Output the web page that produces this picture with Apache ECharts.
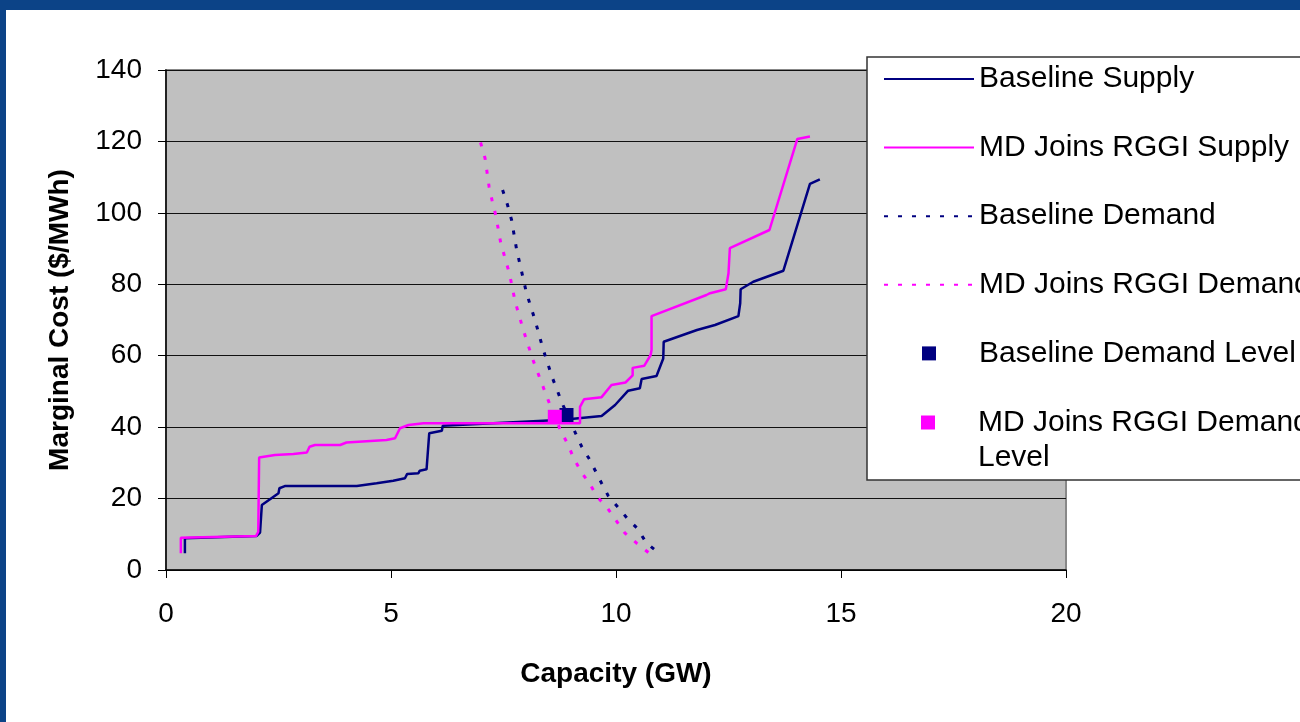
<!DOCTYPE html>
<html>
<head>
<meta charset="utf-8">
<script src="https://cdn.jsdelivr.net/npm/echarts@6/dist/echarts.min.js"></script>
<style>
  html, body { margin: 0; padding: 0; background: #fff; }
  #chart { width: 1300px; height: 722px; }
</style>
</head>
<body>
<div id="chart"></div>
<script>
// Supply curves: [capacity GW, marginal cost $/MWh]
const baselineSupply = [
  [0.42, 4.7], [0.42, 8.9], [2.01, 9.5], [2.09, 10.5], [2.13, 18.2], [2.5, 21.5],
  [2.52, 22.9], [2.64, 23.5], [4.24, 23.5], [4.68, 24.3], [5.05, 25.0], [5.31, 25.7],
  [5.36, 26.9], [5.61, 27.1], [5.64, 27.8], [5.79, 28.2], [5.85, 38.3], [6.13, 39.0],
  [6.15, 40.4], [8.83, 42.1], [9.68, 43.1], [9.98, 46.2], [10.27, 50.2], [10.53, 50.9],
  [10.57, 53.5], [10.9, 54.3], [11.05, 59.2], [11.06, 63.9], [11.8, 67.2], [12.2, 68.6],
  [12.72, 71.1], [12.76, 74.7], [12.77, 78.6], [13.05, 80.7], [13.72, 83.8],
  [14.31, 108.1], [14.53, 109.4]
];
const mdSupply = [
  [0.33, 4.7], [0.33, 9.0], [2.0, 9.5], [2.05, 10.7], [2.07, 31.5], [2.42, 32.2],
  [2.83, 32.5], [3.13, 32.9], [3.19, 34.5], [3.31, 35.0], [3.87, 35.0], [4.01, 35.7],
  [4.9, 36.4], [5.09, 36.9], [5.2, 39.7], [5.39, 40.6], [5.72, 41.1], [9.2, 41.1],
  [9.2, 45.7], [9.29, 47.8], [9.68, 48.4], [9.9, 51.8], [10.21, 52.5], [10.37, 54.5],
  [10.37, 56.6], [10.63, 57.2], [10.77, 60.2], [10.79, 61.6], [10.79, 71.1],
  [12.01, 77.0], [12.09, 77.5], [12.44, 78.6], [12.5, 83.1], [12.53, 90.1],
  [13.41, 95.2], [14.03, 120.7], [14.31, 121.4]
];
// Demand curves
const baselineDemand = [
  [7.48, 106.4], [7.59, 102.2], [7.68, 98.0], [7.79, 89.8], [8.01, 77.6], [8.2, 70.0],
  [8.38, 61.8], [8.59, 53.7], [8.81, 46.5], [9.1, 38.3], [9.24, 34.5], [9.42, 30.8],
  [9.68, 24.3], [9.83, 20.7], [10.05, 17.5], [10.26, 14.3], [10.47, 11.7],
  [10.68, 7.5], [10.98, 4.5]
];
const mdDemand = [
  [6.99, 119.7], [7.09, 115.3], [7.18, 107.3], [7.25, 103.3], [7.33, 99.2], [7.44, 91.5],
  [7.63, 83.1], [7.76, 75.1], [7.94, 67.2], [8.15, 59.0], [8.38, 51.3], [8.52, 46.7],
  [8.77, 39.0], [8.94, 35.0], [9.05, 31.5], [9.24, 27.2], [9.41, 24.3], [9.58, 20.5],
  [9.79, 17.7], [10.2, 10.3], [10.46, 7.5], [10.76, 4.5]
];
// Equilibrium demand levels
const baselineLevel = [[8.9, 43.4]];
const mdLevel = [[8.64, 42.9]];

const seriesNames = [
  'Baseline Supply', 'MD Joins RGGI Supply', 'Baseline Demand',
  'MD Joins RGGI Demand', 'Baseline Demand Level', 'MD Joins RGGI Demand Level'
];
const xTicks = { min: 0, max: 20, step: 5 };
const yTicks = { min: 0, max: 140, step: 20 };

const NAVY = '#000080';
const MAGENTA = '#ff00ff';
const FONT = '"Liberation Sans", Arial, Helvetica, sans-serif';
const squareIcon = 'path://M0,0H1V1H0Z';
// square sitting beside the first line of a two-line legend label
const squareTopIcon = 'path://M0,0L0,0M0,0.75H1V1.75H0ZM0,5L0,5';

const chart = echarts.init(document.getElementById('chart'), null, { renderer: 'canvas' });

const legendText = { fontSize: 30, lineHeight: 34, color: '#000', fontFamily: FONT };
const hideDot = { opacity: 0 };

chart.setOption({
  animation: false,
  backgroundColor: '#fff',
  textStyle: { fontFamily: FONT },
  graphic: [
    { type: 'rect', left: 0, top: 0, shape: { width: 1300, height: 10 }, style: { fill: '#0c4387' }, z: 100 },
    { type: 'rect', left: 0, top: 0, shape: { width: 6, height: 722 }, style: { fill: '#0c4387' }, z: 100 }
  ],
  grid: {
    left: 166, right: 234, top: 70, bottom: 152,
    show: true, backgroundColor: '#c0c0c0', borderColor: '#888', borderWidth: 2
  },
  legend: [
    {
      orient: 'vertical',
      left: 867, top: 57,
      itemWidth: 90, itemHeight: 14, itemGap: 34.6,
      padding: [5, 60, 109.6, 16],
      backgroundColor: '#fff', borderColor: '#333', borderWidth: 1.5,
      textStyle: legendText,
      z: 5,
      data: [
        { name: seriesNames[0], itemStyle: hideDot },
        { name: seriesNames[1], itemStyle: hideDot },
        { name: seriesNames[2], itemStyle: hideDot },
        { name: seriesNames[3], itemStyle: hideDot },
        { name: seriesNames[4], icon: squareIcon }
      ]
    },
    {
      orient: 'vertical',
      left: 921, top: 405,
      itemWidth: 90, itemHeight: 70,
      padding: 0,
      z: 6,
      textStyle: Object.assign({}, legendText, { lineHeight: 35 }),
      formatter: function () { return 'MD Joins RGGI Demand\nLevel'; },
      data: [{ name: seriesNames[5], icon: squareTopIcon }]
    }
  ],
  xAxis: {
    type: 'value',
    min: xTicks.min, max: xTicks.max, interval: xTicks.step,
    name: 'Capacity (GW)', nameLocation: 'middle', nameGap: 90,
    nameTextStyle: { fontSize: 28, fontWeight: 'bold', color: '#000' },
    axisLine: { show: true, onZero: false, lineStyle: { color: '#000', width: 1.5 } },
    axisTick: { show: true, length: 8, lineStyle: { color: '#000' } },
    axisLabel: { fontSize: 28, color: '#000', margin: 30 },
    splitLine: { show: false }
  },
  yAxis: {
    type: 'value',
    min: yTicks.min, max: yTicks.max, interval: yTicks.step,
    name: 'Marginal Cost ($/MWh)', nameLocation: 'middle', nameGap: 92,
    nameTextStyle: { fontSize: 28, fontWeight: 'bold', color: '#000' },
    axisLine: { show: true, lineStyle: { color: '#000', width: 1.5 } },
    axisTick: { show: true, length: 8, lineStyle: { color: '#000' } },
    axisLabel: { fontSize: 28, color: '#000', margin: 24 },
    splitLine: { show: true, lineStyle: { color: '#111', width: 1 } }
  },
  series: [
    {
      name: seriesNames[0], type: 'line', data: baselineSupply, symbol: 'none',
      color: NAVY, lineStyle: { color: NAVY, width: 2.5 }, z: 3
    },
    {
      name: seriesNames[1], type: 'line', data: mdSupply, symbol: 'none',
      color: MAGENTA, lineStyle: { color: MAGENTA, width: 2.5 }, z: 3
    },
    {
      name: seriesNames[2], type: 'line', data: baselineDemand, symbol: 'none',
      color: NAVY, lineStyle: { color: NAVY, width: 3, type: [4, 10] }, z: 3
    },
    {
      name: seriesNames[3], type: 'line', data: mdDemand, symbol: 'none',
      color: MAGENTA, lineStyle: { color: MAGENTA, width: 3, type: [4, 10] }, z: 3
    },
    {
      name: seriesNames[4], type: 'scatter', data: baselineLevel, symbol: 'rect',
      symbolSize: 14, itemStyle: { color: NAVY, opacity: 1 }, z: 10
    },
    {
      name: seriesNames[5], type: 'scatter', data: mdLevel, symbol: 'rect',
      symbolSize: 14, itemStyle: { color: MAGENTA, opacity: 1 }, z: 11
    }
  ]
});
</script>
</body>
</html>
